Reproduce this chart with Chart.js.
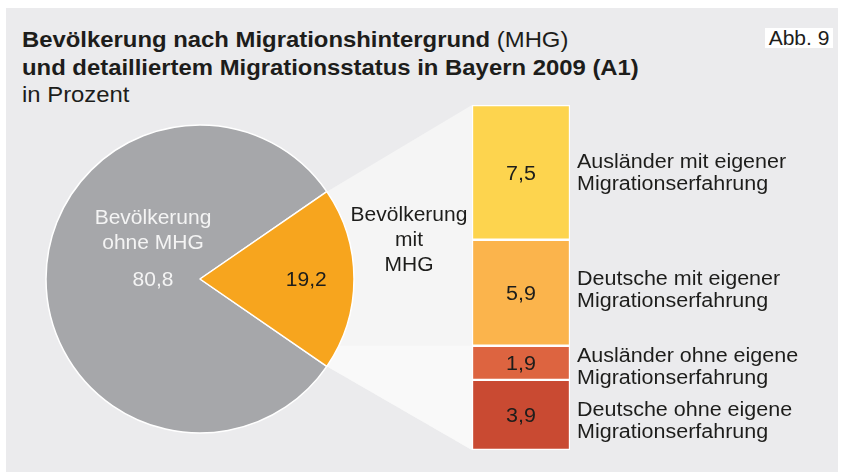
<!DOCTYPE html>
<html lang="de">
<head>
<meta charset="utf-8">
<title>Bevölkerung nach Migrationshintergrund</title>
<script src="https://cdn.jsdelivr.net/npm/chart.js@4.4.0/dist/chart.umd.min.js"></script>
<style>
  body { margin: 0; background: #fff; font-family: "Liberation Sans", Arial, sans-serif; }
  #panel { position: absolute; left: 6px; top: 8px; width: 832px; height: 464px; background: #ebebed; }
  canvas { position: absolute; left: 0; top: 0; }
  .title { position: absolute; left: 22px; top: 26px; font-size: 22px; line-height: 27.5px; color: #1d1d1b;
           white-space: nowrap; transform: scaleX(1.085); transform-origin: left top; }
  .abb { position: absolute; left: 765px; top: 28px; width: 68px; height: 20px; background: #fff;
         font-size: 21px; line-height: 20px; text-align: center; color: #1d1d1b; }
</style>
</head>
<body>
<div id="panel"></div>
<div class="title"><b>Bevölkerung nach Migrationshintergrund</b> (MHG)<br><b>und detailliertem Migrationsstatus in Bayern 2009 (A1)</b><br>in Prozent</div>
<div class="abb">Abb. 9</div>
<canvas id="barChart" width="850" height="472"></canvas>
<canvas id="pieChart" width="850" height="472"></canvas>
<script>
// Daten
const pieLabels = ["Bevölkerung ohne MHG", "Bevölkerung mit MHG"];
const pieValues = [80.8, 19.2];
const pieColors = ["#a6a7aa", "#f7a51e"];

const statusLabels = [
  ["Ausländer mit eigener", "Migrationserfahrung"],
  ["Deutsche mit eigener", "Migrationserfahrung"],
  ["Ausländer ohne eigene", "Migrationserfahrung"],
  ["Deutsche ohne eigene", "Migrationserfahrung"]
];
const statusValues = [7.5, 5.9, 1.9, 3.9];
const statusColors = ["#fdd44e", "#fbb44c", "#dd6440", "#c94a32"];

const FONT = '"Liberation Sans", Arial, sans-serif';
const fmt = (v) => v.toFixed(1).replace(".", ",");

// Text leicht in die Breite gezogen, wie im Original
function text(ctx, s, x, y, sx) {
  ctx.save();
  ctx.translate(x, y);
  ctx.scale(sx, 1);
  ctx.fillText(s, 0, 0);
  ctx.restore();
}

function lines(ctx, arr, x, y, lh, sx) {
  const y0 = y - ((arr.length - 1) * lh) / 2;
  arr.forEach((l, i) => text(ctx, l, x, y0 + i * lh, sx));
}

// Kreisdiagramm
const pieTotal = pieValues.reduce((a, b) => a + b, 0);
const pieChart = new Chart(document.getElementById("pieChart"), {
  type: "pie",
  data: {
    labels: pieLabels,
    datasets: [{
      data: pieValues,
      backgroundColor: pieColors,
      borderColor: "#ffffff",
      borderWidth: 1.5,
      hoverOffset: 0
    }]
  },
  options: {
    responsive: false,
    animation: false,
    events: [],
    rotation: 90 + (pieValues[1] / pieTotal) * 180,
    radius: 154,
    layout: { padding: { left: 46, right: 496, top: 125, bottom: 39 } },
    plugins: { legend: { display: false }, tooltip: { enabled: false } }
  },
  plugins: [{
    id: "pieText",
    afterDatasetsDraw(chart) {
      const ctx = chart.ctx;
      const arc = chart.getDatasetMeta(0).data[0];
      const cx = arc.x, cy = arc.y, r = arc.outerRadius;
      ctx.save();
      ctx.textAlign = "center";
      ctx.textBaseline = "middle";
      ctx.font = "20px " + FONT;
      ctx.fillStyle = "#f4f4f4";
      lines(ctx, ["Bevölkerung", "ohne MHG"], cx - 0.305 * r, cy - 48, 25, 1.05);
      text(ctx, fmt(pieValues[0]), cx - 0.305 * r, cy + 1, 1.05);
      ctx.fillStyle = "#1d1d1b";
      text(ctx, fmt(pieValues[1]), cx + 0.69 * r, cy + 1, 1.05);
      lines(ctx, ["Bevölkerung", "mit", "MHG"], cx + 1.357 * r, cy - 39, 25, 1.05);
      ctx.restore();
    }
  }]
});

// Gestapelter Balken
const barChart = new Chart(document.getElementById("barChart"), {
  type: "bar",
  data: {
    labels: ["MHG"],
    datasets: statusValues.map((v, i) => ({
      label: statusLabels[i].join(" "),
      data: [v],
      backgroundColor: statusColors[i],
      borderColor: "#ffffff",
      borderWidth: 1.5,
      borderSkipped: false,
      barPercentage: 1,
      categoryPercentage: 1
    }))
  },
  options: {
    responsive: false,
    animation: false,
    events: [],
    layout: { padding: { left: 472, right: 280, top: 105, bottom: 22 } },
    scales: {
      x: { stacked: true, display: false },
      y: { stacked: true, display: false, reverse: true, min: 0, max: pieValues[1] }
    },
    plugins: { legend: { display: false }, tooltip: { enabled: false } }
  },
  plugins: [{
    id: "connector",
    beforeDatasetsDraw(chart) {
      const ctx = chart.ctx;
      const arc = pieChart.getDatasetMeta(0).data[1];
      const r = arc.outerRadius;
      const p1 = [arc.x + r * Math.cos(arc.startAngle), arc.y + r * Math.sin(arc.startAngle)];
      const p2 = [arc.x + r * Math.cos(arc.endAngle), arc.y + r * Math.sin(arc.endAngle)];
      const first = chart.getDatasetMeta(0).data[0];
      const last = chart.getDatasetMeta(statusValues.length - 1).data[0];
      const left = first.x - first.width / 2;
      const right = first.x + first.width / 2;
      const top = Math.min(first.y, first.base);
      const bottom = Math.max(last.y, last.base);
      const split = chart.getDatasetMeta(2).data[0];
      const splitY = Math.min(split.y, split.base);
      const poly = () => {
        ctx.beginPath();
        ctx.moveTo(arc.x, arc.y);
        ctx.lineTo(p1[0], p1[1]);
        ctx.lineTo(left, top);
        ctx.lineTo(right, top);
        ctx.lineTo(right, bottom);
        ctx.lineTo(left, bottom);
        ctx.lineTo(p2[0], p2[1]);
        ctx.closePath();
      };
      ctx.save();
      poly();
      ctx.fillStyle = "#f5f5f5";
      ctx.fill();
      ctx.beginPath();
      ctx.rect(0, splitY, chart.width, chart.height - splitY);
      ctx.clip();
      poly();
      ctx.fillStyle = "#f9f9f9";
      ctx.fill();
      ctx.restore();
    },
    afterDatasetsDraw(chart) {
      const ctx = chart.ctx;
      // kleine Segmente: Beschriftung etwas tiefer
      const shift = [0, -3, 4, 6];
      ctx.save();
      ctx.font = "20px " + FONT;
      ctx.fillStyle = "#1d1d1b";
      ctx.textBaseline = "middle";
      statusValues.forEach((v, i) => {
        const bar = chart.getDatasetMeta(i).data[0];
        const mid = (bar.y + bar.base) / 2;
        ctx.textAlign = "center";
        text(ctx, fmt(v), bar.x, mid + 2, 1.075);
        ctx.textAlign = "left";
        lines(ctx, statusLabels[i], bar.x + bar.width / 2 + 7, mid + 1 + shift[i], 22, 1.075);
      });
      ctx.restore();
    }
  }]
});
</script>
</body>
</html>
